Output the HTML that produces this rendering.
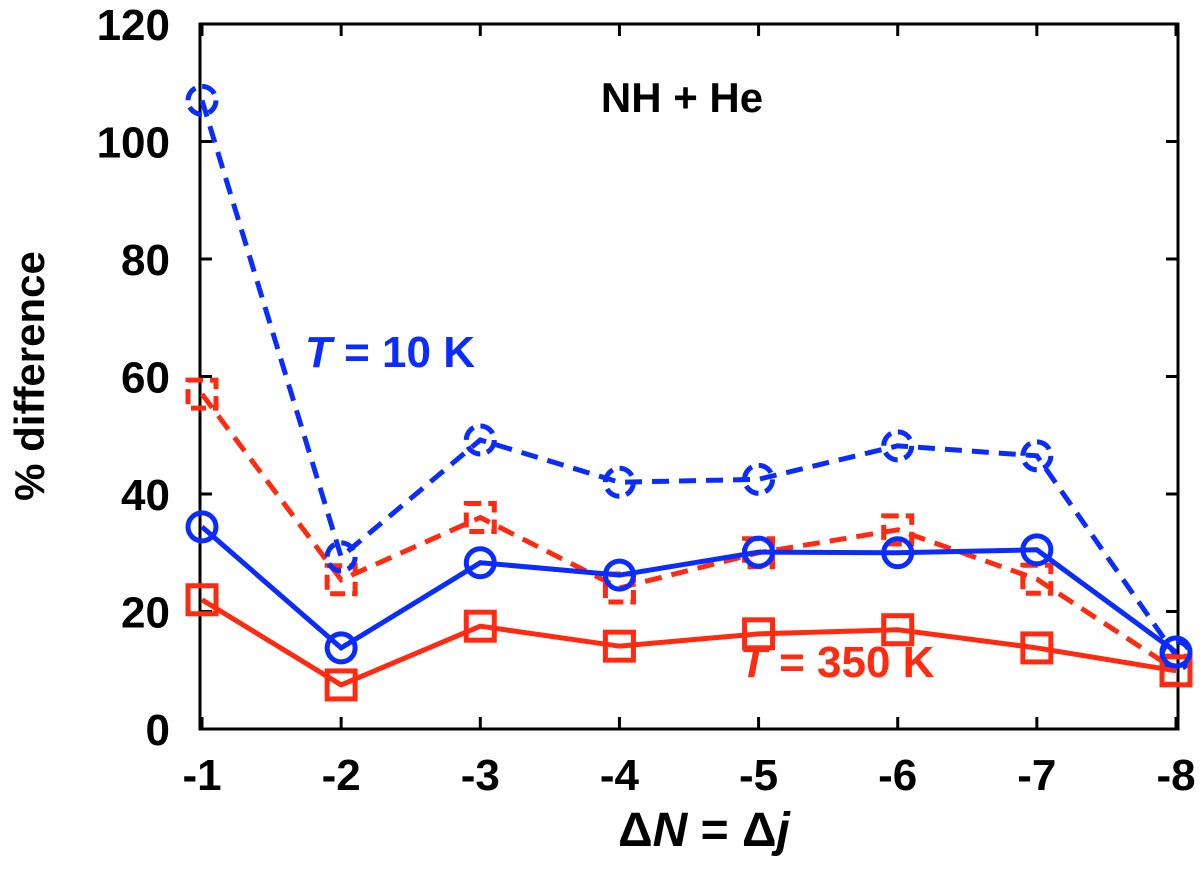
<!DOCTYPE html>
<html><head><meta charset="utf-8"><style>
body{margin:0;background:#fff}
svg text{font-family:"Liberation Sans",Helvetica,Arial,sans-serif;font-weight:bold}
</style></head><body>
<svg id="chart" width="1200" height="878" xmlns="http://www.w3.org/2000/svg">
<g id="axes"></g><g id="series"></g>
<text x="682" y="112" font-size="42" text-anchor="middle">NH + He</text>
<text x="305" y="367" font-size="44" fill="#0a2cff"><tspan font-style="italic">T</tspan> = 10 K</text>
<text x="740" y="677" font-size="44" fill="#ff2a10"><tspan font-style="italic">T</tspan> = 350 K</text>
<text x="704" y="846" font-size="48" text-anchor="middle">Δ<tspan font-style="italic">N</tspan> = Δ<tspan font-style="italic">j</tspan></text>
<text transform="translate(44,376) rotate(-90)" font-size="42" text-anchor="middle">% difference</text>
</svg>
<script>
const categories=["-1","-2","-3","-4","-5","-6","-7","-8"];
const yTicks=[0,20,40,60,80,100,120];
const blueDashed=[107,29.3,49.2,42,42.5,48.2,46.5,12.5];
const redDashed=[57,25.4,36,24,30,33.9,25.5,10];
const blueSolid=[34.4,13.8,28.3,26.2,30.1,30,30.5,13.1];
const redSolid=[22,7.5,17.5,14.1,16.2,16.9,13.8,9.9];
const L=200,R=1178,T=24,B=729;
const x0=202,x1=1176;
const xs=i=>x0+i*(x1-x0)/(categories.length-1);
const ys=v=>B-(v/120)*(B-T);
const NS="http://www.w3.org/2000/svg";
function mk(tag,attrs,parent){const e=document.createElementNS(NS,tag);for(const k in attrs)e.setAttribute(k,attrs[k]);parent.appendChild(e);return e;}
const ax=document.getElementById('axes');
const frame=mk('rect',{x:L,y:T,width:R-L,height:B-T,fill:'none',stroke:'#000','stroke-width':3},ax);


yTicks.forEach(v=>{
  const y=ys(v);
  const t=mk('path',{d:`M${L},${y}h12M${R},${y}h-12`,stroke:'#000','stroke-width':3},ax);
  
  
  const l=mk('text',{x:170,y:y+16,'font-size':44,'text-anchor':'end'},ax);
  l.textContent=v;
  
  
});
categories.forEach((c,i)=>{
  const x=xs(i);
  const t=mk('path',{d:`M${x},${B}v-12M${x},${T}v12`,stroke:'#000','stroke-width':3},ax);
  
  
  const l=mk('text',{x:x,y:790,'font-size':44,'text-anchor':'middle'},ax);
  l.textContent=c;
  
  
});
const sg=document.getElementById('series');
function series(vals,color,dashed,marker,name){
  const g=mk('g',{},sg);
  
  
  const pts=vals.map((v,i)=>`${xs(i)},${ys(v)}`).join(' ');
  const a={points:pts,fill:'none',stroke:color,'stroke-width':5};
  if(dashed)a['stroke-dasharray']='17,10';
  mk('polyline',a,g);
  vals.forEach((v,i)=>{
    const x=xs(i),y=ys(v);let m;
    const ma={fill:'none',stroke:color,'stroke-width':5};
    if(dashed)ma['stroke-dasharray']='15,7';
    if(marker==='circle'){m=mk('circle',Object.assign({cx:x,cy:y,r:14},ma),g);}
    else{m=mk('rect',Object.assign({x:x-14,y:y-14,width:28,height:28},ma),g);}
    
    
  });
}
series(redDashed,'#ff2a10',true,'square','red-dashed-series');
series(blueDashed,'#0a2cff',true,'circle','blue-dashed-series');
series(redSolid,'#ff2a10',false,'square','red-solid-series');
series(blueSolid,'#0a2cff',false,'circle','blue-solid-series');
</script>
</body></html>
